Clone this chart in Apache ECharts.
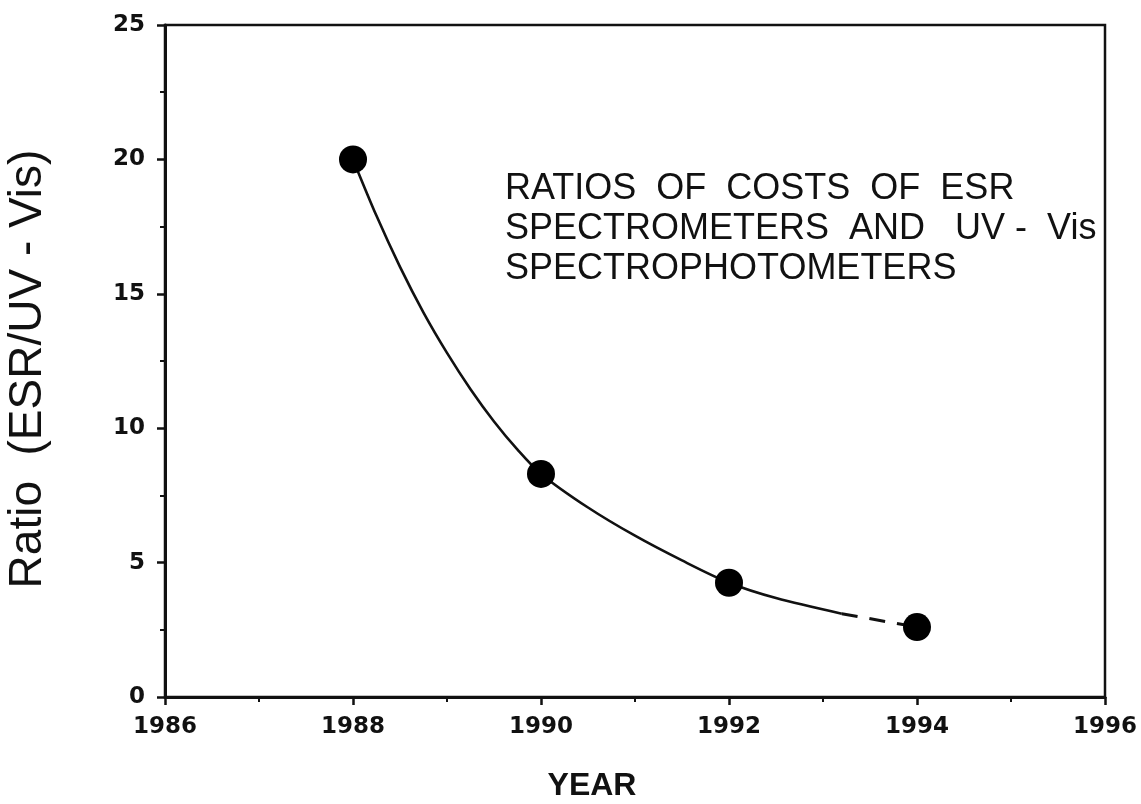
<!DOCTYPE html>
<html>
<head>
<meta charset="utf-8">
<script src="https://cdn.jsdelivr.net/npm/echarts@6/dist/echarts.min.js"></script>
<style>
  html, body { margin: 0; padding: 0; background: #fff; }
  #chart { width: 1141px; height: 804px; }
</style>
</head>
<body>
<div id="chart"></div>
<script>
// Measured cost ratios (ESR spectrometer / UV-Vis spectrophotometer)
const years = [1988, 1990, 1992, 1994];
const ratios = [20.0, 8.3, 4.25, 2.6];

// Hand-drawn trend curve through the measurements (solid part)
const curveYears  = [1988, 1988.25, 1988.5, 1988.75, 1989.0, 1989.25, 1989.5, 1989.75, 1990, 1990.5, 1991.0, 1991.5, 1992, 1992.5, 1993.2];
const curveValues = [20.0, 17.9, 16.0, 14.3, 12.8, 11.45, 10.25, 9.2, 8.3, 7.05, 6.0, 5.08, 4.25, 3.68, 3.1];

// Projected (dashed) continuation to 1994
const projYears  = [1993.2, 1994];
const projValues = [3.1, 2.6];

const xTicks = [1986, 1988, 1990, 1992, 1994, 1996];
const yTicks = [0, 5, 10, 15, 20, 25];

const noteLines = [
  'RATIOS  OF  COSTS  OF  ESR',
  'SPECTROMETERS  AND   UV -  Vis',
  'SPECTROPHOTOMETERS'
];

const pairs = (xs, ys) => xs.map((x, i) => [x, ys[i]]);

const tickFont = { color: '#111', fontFamily: 'DejaVu Sans', fontWeight: 'bold', fontSize: 23 };

const chart = echarts.init(document.getElementById('chart'));
chart.setOption({
  animation: false,
  backgroundColor: '#fff',
  grid: {
    left: 165, right: 36, top: 25, bottom: 107,
    outerBoundsMode: 'none',
    containLabel: false,
    show: true, borderColor: '#111', borderWidth: 2.5, backgroundColor: 'transparent'
  },
  xAxis: {
    type: 'value',
    min: xTicks[0], max: xTicks[xTicks.length - 1], interval: 2,
    name: 'YEAR',
    nameLocation: 'middle',
    nameGap: 73,
    nameTextStyle: { color: '#111', fontFamily: 'Liberation Sans', fontWeight: 'bold', fontSize: 32, padding: [0, 86, 0, 0] },
    axisLine: { show: true, onZero: false, lineStyle: { color: '#111', width: 3 } },
    axisTick: { show: true, inside: false, length: 8, lineStyle: { color: '#111', width: 2.5 } },
    minorTick: { show: true, splitNumber: 2, length: 5, lineStyle: { color: '#111', width: 2 } },
    splitLine: { show: false },
    axisLabel: Object.assign({ margin: 19, formatter: v => String(v) }, tickFont)
  },
  yAxis: {
    type: 'value',
    min: yTicks[0], max: yTicks[yTicks.length - 1], interval: 5,
    name: 'Ratio  (ESR/UV - Vis)',
    nameLocation: 'middle',
    nameGap: 114,
    nameTextStyle: { color: '#111', fontFamily: 'Liberation Sans', fontSize: 46, padding: [0, 16, 0, 0] },
    axisLine: { show: true, onZero: false, lineStyle: { color: '#111', width: 3 } },
    axisTick: { show: true, inside: false, length: 8, lineStyle: { color: '#111', width: 2.5 } },
    minorTick: { show: true, splitNumber: 2, length: 5, lineStyle: { color: '#111', width: 2 } },
    splitLine: { show: false },
    axisLabel: Object.assign({ margin: 20 }, tickFont)
  },
  graphic: [{
    type: 'text',
    left: 505, top: 169,
    style: {
      text: noteLines.join('\n'),
      fill: '#111',
      fontFamily: 'Liberation Sans',
      fontSize: 36,
      lineHeight: 40
    }
  }],
  series: [
    {
      name: 'trend',
      type: 'line',
      data: pairs(curveYears, curveValues),
      smooth: 0.3,
      showSymbol: false,
      lineStyle: { color: '#111', width: 2.6 },
      z: 2
    },
    {
      name: 'projection',
      type: 'line',
      data: pairs(projYears, projValues),
      showSymbol: false,
      lineStyle: { color: '#111', width: 3, type: [16, 12] },
      z: 2
    },
    {
      name: 'ratio',
      type: 'scatter',
      data: pairs(years, ratios),
      symbol: 'circle',
      symbolSize: 28,
      itemStyle: { color: '#000', opacity: 1 },
      z: 3
    }
  ]
});
</script>
</body>
</html>
